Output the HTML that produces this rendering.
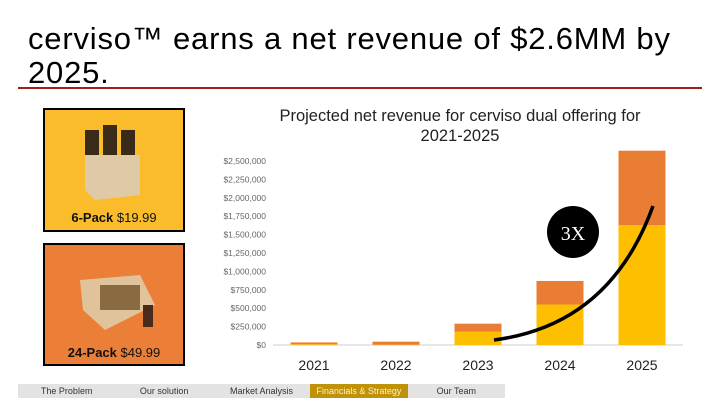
<!DOCTYPE html>
<html><head><meta charset="utf-8"><style>
body{margin:0;width:720px;height:405px;background:#fff;font-family:"Liberation Sans",sans-serif;position:relative;overflow:hidden}
.abs{position:absolute}
.title{left:28px;top:22px;font-size:31px;line-height:34px;color:#000;letter-spacing:0.8px}
.box{left:43px;width:138px;border:2px solid #000;text-align:center}
.nav{top:384px;height:14px;width:97.4px;background:#e3e3e3;font-size:9px;line-height:14px;text-align:center;color:#333}
</style></head><body>
<div class="abs title">cerviso™ earns a net revenue of $2.6MM by<br>2025.</div>
<div class="abs" style="left:18px;top:87px;width:684px;height:2px;background:#a31c1c"></div>
<div class="abs box" style="top:108px;height:120px;background:#fbbc2c">
<svg width="138" height="95"><rect x="40" y="20" width="14" height="40" fill="#3a2a1a"/><rect x="58" y="15" width="14" height="45" fill="#3a2a1a"/><rect x="76" y="20" width="14" height="40" fill="#3a2a1a"/><polygon points="40,45 95,45 95,85 50,90 40,80" fill="#e0c9a6"/></svg>
<div style="font-size:13px;color:#111"><b>6-Pack</b> $19.99</div></div>
<div class="abs box" style="top:243px;height:119px;background:#eb7f38">
<svg width="138" height="95"><polygon points="35,35 95,30 110,60 60,85 38,65" fill="#e0c39a"/><rect x="55" y="40" width="40" height="25" fill="#8a6a40"/><rect x="98" y="60" width="10" height="22" fill="#4a2a1a"/></svg>
<div style="font-size:13px;color:#111"><b>24-Pack</b> $49.99</div></div>
<div class="abs" style="left:225px;top:106px;width:470px;text-align:center;font-size:16.5px;line-height:20px;color:#222">Projected net revenue for cerviso dual offering for<br>2021-2025</div>
<svg class="abs" id="chart" style="left:0;top:0" width="720" height="405"></svg>
<div id="nav"></div>
<script>
const years=["2021","2022","2023","2024","2025"];
const sixPack=[10000,5000,180000,550000,1630000];
const twentyFour=[25000,40000,110000,320000,1010000];
const ticks=[0,250000,500000,750000,1000000,1250000,1500000,1750000,2000000,2250000,2500000];
const NS="http://www.w3.org/2000/svg";
const svg=document.getElementById('chart');
const y0=345,yTop=161,max=2500000;
const Y=v=>y0-(v/max)*(y0-yTop);
const X=i=>314+i*82;
function mk(t,a){const e=document.createElementNS(NS,t);for(const k in a)e.setAttribute(k,a[k]);svg.appendChild(e);return e;}
ticks.forEach(t=>{const e=mk('text',{x:266,y:Y(t)+3,'text-anchor':'end','font-size':'8.5','fill':'#666','font-family':'Liberation Sans'});
e.textContent='$'+t.toLocaleString('en-US');

});
const ax=mk('line',{x1:273,x2:683,y1:y0,y2:y0,stroke:'#ccc','stroke-width':1});


years.forEach((yr,i)=>{
const b1=mk('rect',{x:X(i)-23.5,width:47,y:Y(sixPack[i]),height:y0-Y(sixPack[i]),fill:'#fdbf00'});


const tot=sixPack[i]+twentyFour[i];
const b2=mk('rect',{x:X(i)-23.5,width:47,y:Y(tot),height:Y(sixPack[i])-Y(tot),fill:'#ea7d34'});


const t=mk('text',{x:X(i),y:370,'text-anchor':'middle','font-size':'14','fill':'#222','font-family':'Liberation Sans'});
t.textContent=yr;

});
const c=mk('path',{d:'M494,340 Q610,325 653,206',stroke:'#000','stroke-width':3.5,fill:'none'});


const ci=mk('circle',{cx:573,cy:232,r:26,fill:'#000'});


const ct=mk('text',{x:573,y:240,'text-anchor':'middle','font-size':'20','fill':'#fff','font-family':'Liberation Serif'});
ct.textContent='3X';


const navItems=["The Problem","Our solution","Market Analysis","Financials & Strategy","Our Team"];
const nav=document.getElementById('nav');
navItems.forEach((n,i)=>{const d=document.createElement('div');d.className='abs nav';d.style.left=(18+i*97.4)+'px';
if(i===3){d.style.background='#c0920a';d.style.color='#fff3c0';}
d.textContent=n;


nav.appendChild(d);});
</script>
</body></html>
